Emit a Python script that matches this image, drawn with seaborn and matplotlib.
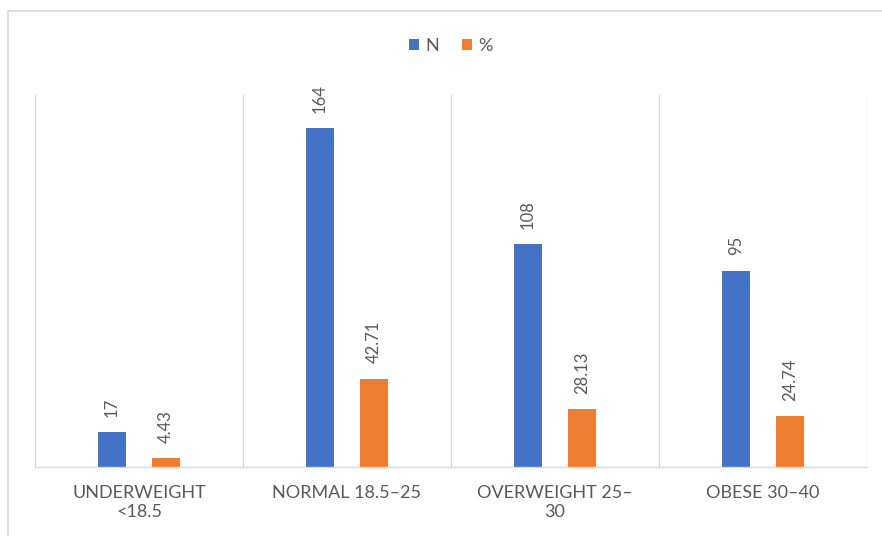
import matplotlib
matplotlib.use("Agg")
import matplotlib.pyplot as plt
from matplotlib.patches import Rectangle
import pandas as pd
import seaborn as sns

# BMI groups and their counts / shares
categories = ["UNDERWEIGHT\n<18.5", "NORMAL 18.5\u201325", "OVERWEIGHT 25\u2013\n30", "OBESE 30\u201340"]
series_names = ["N", "%"]
n_values = [17, 164, 108, 95]
pct_values = [4.43, 42.71, 28.13, 24.74]
n_labels = ["17", "164", "108", "95"]
pct_labels = ["4.43", "42.71", "28.13", "24.74"]

BLUE = "#4472C4"
ORANGE = "#ED7D31"
TEXT = "#595959"
GRID = "#D9D9D9"

rows = []
for cat, n, p in zip(categories, n_values, pct_values):
    rows.append({"category": cat, "series": series_names[0], "value": n})
    rows.append({"category": cat, "series": series_names[1], "value": p})
df = pd.DataFrame(rows)

sns.set_theme(style="white")
plt.rcParams["font.family"] = ["Lato", "DejaVu Sans"]

fig = plt.figure(figsize=(8.82, 5.36), dpi=100)
ax = fig.add_axes([35 / 882, 1 - 467 / 536, (867 - 35) / 882, (467 - 95) / 536])

sns.barplot(data=df, x="category", y="value", hue="series", order=categories,
            hue_order=series_names, palette=[BLUE, ORANGE], width=0.52, gap=0.48,
            saturation=1, linewidth=0, ax=ax)

ax.set_ylim(0, 180)
ax.set_xlim(-0.5, len(categories) - 0.5)

# value labels above the bars
ax.bar_label(ax.containers[0], labels=n_labels, rotation=90, padding=11,
             color=TEXT, fontsize=12)
ax.bar_label(ax.containers[1], labels=pct_labels, rotation=90, padding=11,
             color=TEXT, fontsize=12)

# category separators
ax.set_xticks([i - 0.5 for i in range(len(categories) + 1)], minor=True)
ax.grid(False)
ax.grid(which="minor", axis="x", color=GRID, linewidth=1)
ax.set_yticks([])
ax.tick_params(axis="both", which="both", length=0)
ax.tick_params(axis="x", which="major", pad=13, labelsize=13, labelcolor=TEXT)
ax.set_xlabel("")
ax.set_ylabel("")
for side in ["left", "right", "top"]:
    ax.spines[side].set_visible(False)
ax.spines["bottom"].set_color(GRID)
ax.spines["bottom"].set_linewidth(1)

sns.move_legend(ax, "center", bbox_to_anchor=(0.511, 0.914),
                bbox_transform=fig.transFigure, ncol=2, frameon=False,
                title=None, handlelength=0.55, handleheight=0.55,
                handletextpad=0.35, columnspacing=1.3, fontsize=13,
                labelcolor=TEXT)

# chart frame
fig.add_artist(Rectangle((8 / 882, -0.05), 1.0, 1 - 11 / 536 + 0.05,
                         transform=fig.transFigure, fill=False,
                         edgecolor=GRID, linewidth=1.2, clip_on=False))

fig.savefig("out.png", dpi=100)
